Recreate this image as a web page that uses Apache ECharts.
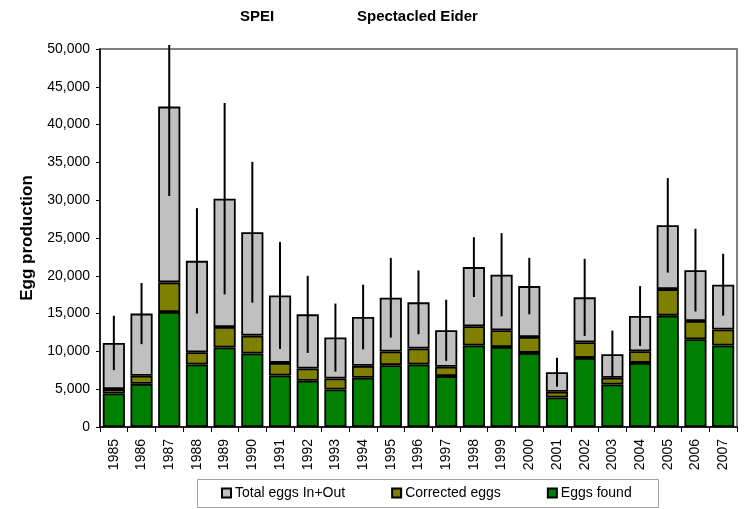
<!DOCTYPE html>
<html>
<head>
<meta charset="utf-8">
<script src="https://cdn.jsdelivr.net/npm/echarts@6/dist/echarts.min.js"></script>
<style>
  html, body { margin: 0; padding: 0; background: #fff; }
  #chart { width: 746px; height: 509px; }
</style>
</head>
<body>
<div id="chart"></div>
<script>
// Spectacled Eider egg production per year
const years = ['1985','1986','1987','1988','1989','1990','1991','1992','1993','1994','1995','1996',
               '1997','1998','1999','2000','2001','2002','2003','2004','2005','2006','2007'];
// Eggs found in nests
const eggsFound = [4440,5710,15210,8270,10510,9720,6820,6110,4970,6510,8180,8270,
                   6730,10780,10590,9800,3910,9140,5630,8480,14730,11610,10780];
// Corrected egg totals (cumulative)
const correctedEggs = [5010,6770,19130,9890,13230,12090,8480,7740,6420,8090,9980,10380,
                       7960,13320,12790,11910,4660,11210,6510,10020,18240,14020,12890];
// Total eggs inside + outside plots (cumulative)
const totalEggs = [11120,15000,42380,21980,30200,25760,17410,14900,11830,14550,17100,16490,
                   12790,21150,20140,18640,7250,17150,9630,14680,26680,20750,18820];
// Error (+/-) on total eggs
const totalErr = [3600,4040,11820,6970,12660,9320,7080,5100,4500,4280,5270,4220,
                  4040,3950,5500,3740,1910,5100,3120,3960,6250,5470,4090];
const yTicks = { min: 0, max: 50000, interval: 5000 };

// Stack segments
const segFound = eggsFound.slice();
const segCorrected = correctedEggs.map((v, i) => v - eggsFound[i]);
const segTotal = totalEggs.map((v, i) => v - correctedEggs[i]);
const errData = totalEggs.map((v, i) => [i, v, totalErr[i]]);

const FONT = "'Liberation Sans', Arial, sans-serif";
const chart = echarts.init(document.getElementById('chart'), null, { renderer: 'canvas' });

const barStyle = (color) => ({ color: color, borderColor: '#000', borderWidth: 1.8 });

chart.setOption({
  animation: false,
  textStyle: { fontFamily: FONT },
  title: [
    { text: 'SPEI', left: 240, top: 9, padding: 0,
      textStyle: { fontFamily: FONT, fontSize: 15, fontWeight: 'bold', color: '#000' } },
    { text: 'Spectacled Eider', left: 357, top: 9, padding: 0,
      textStyle: { fontFamily: FONT, fontSize: 15, fontWeight: 'bold', color: '#000' } }
  ],
  graphic: [{
    type: 'rect', left: 197, top: 479,
    shape: { width: 461, height: 28 },
    style: { fill: '#fff', stroke: '#a0a0a0', lineWidth: 1 },
    z: 0
  }],
  legend: {
    data: ['Total eggs In+Out', 'Corrected eggs', 'Eggs found'],
    left: 221, top: 486, padding: 0,
    itemWidth: 9, itemHeight: 9, itemGap: 46,
    icon: 'rect',
    textStyle: { fontFamily: FONT, fontSize: 14, color: '#000', padding: [0, 0, 0, -1] },
    z: 5
  },
  grid: {
    left: 100, right: 9, top: 49, bottom: 82,
    show: true, borderColor: '#808080', borderWidth: 2, backgroundColor: '#fff'
  },
  xAxis: {
    type: 'category',
    data: years,
    boundaryGap: true,
    axisLine: { lineStyle: { color: '#000', width: 1.5 } },
    axisTick: { show: true, length: 5, lineStyle: { color: '#000' } },
    axisLabel: { rotate: 90, margin: 12, fontSize: 14, color: '#000', fontFamily: FONT, interval: 0 }
  },
  yAxis: {
    type: 'value',
    min: yTicks.min, max: yTicks.max, interval: yTicks.interval,
    name: 'Egg production',
    nameLocation: 'middle',
    nameGap: 63,
    nameTextStyle: { fontFamily: FONT, fontSize: 17, fontWeight: 'bold', color: '#000' },
    axisLine: { show: true, lineStyle: { color: '#000', width: 1.5 } },
    axisTick: { show: true, length: 4, lineStyle: { color: '#000' } },
    splitLine: { show: false },
    axisLabel: {
      margin: 10, fontSize: 14, color: '#000', fontFamily: FONT,
      formatter: (v) => v.toLocaleString('en-US')
    }
  },
  series: [
    { name: 'Eggs found', type: 'bar', stack: 'eggs', data: segFound,
      barCategoryGap: '20%', itemStyle: barStyle('#008000') },
    { name: 'Corrected eggs', type: 'bar', stack: 'eggs', data: segCorrected,
      itemStyle: barStyle('#808000') },
    { name: 'Total eggs In+Out', type: 'bar', stack: 'eggs', data: segTotal,
      itemStyle: barStyle('#c0c0c0') },
    {
      name: 'error', type: 'custom', data: errData, z: 10, clip: false,
      renderItem: (params, api) => {
        const i = api.value(0), v = api.value(1), e = api.value(2);
        const lo = api.coord([i, v - e]);
        const hi = api.coord([i, v + e]);
        const topLimit = params.coordSys.y - 4;
        return {
          type: 'line',
          shape: { x1: lo[0], y1: lo[1], x2: hi[0], y2: Math.max(hi[1], topLimit) },
          style: { stroke: '#000', lineWidth: 2 }
        };
      }
    }
  ]
});
</script>
</body>
</html>
